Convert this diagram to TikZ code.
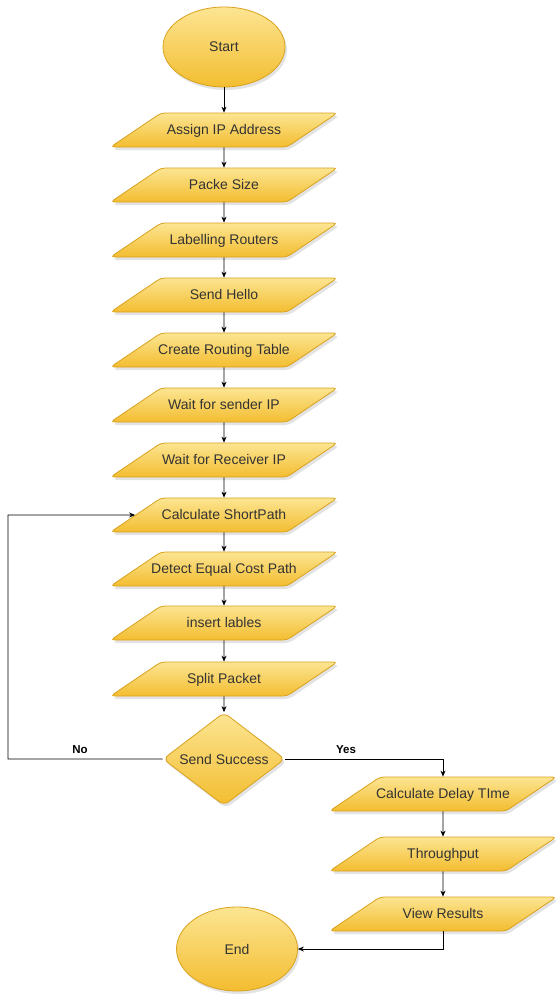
\documentclass[tikz,border=0pt]{standalone}
\usepackage{fontspec}
\setmainfont{Liberation Sans}
\usetikzlibrary{shapes.geometric,arrows.meta,shadows}
\definecolor{boxtop}{HTML}{FCE592}
\definecolor{boxbot}{HTML}{F3BD30}
\definecolor{boxline}{HTML}{D9A21E}
\definecolor{txt}{HTML}{333333}
\newcommand\pgtxt[1]{\makebox[126pt][c]{#1}}
\tikzset{
  base/.style={draw=boxline, line width=0.8pt, top color=boxtop, bottom color=boxbot,
    text=txt, font=\fontsize{14}{16}\selectfont,
    drop shadow={opacity=0.22, shadow xshift=2pt, shadow yshift=-3pt}},
  term/.style={base, ellipse, inner sep=0pt},
  iobox/.style={base, trapezium, trapezium left angle=34, trapezium right angle=146,
    text height=12pt, text depth=3pt,
    inner xsep=0pt, inner ysep=9.5pt, rounded corners=4pt},
  decide/.style={base, diamond, aspect=1.31, minimum width=122pt, minimum height=93pt,
    inner sep=0pt, rounded corners=6pt},
  arr/.style={line width=0.7pt, -{Stealth[length=6pt,width=5pt]}},
  lbl/.style={font=\bfseries\fontsize{11.5}{13}\selectfont, text=black}
}
\begin{document}
\begin{tikzpicture}[x=1pt,y=-1pt]
\useasboundingbox[fill=white] (0,0) rectangle (555,994);
\node[term, minimum width=122pt, minimum height=80pt] (st) at (224,47) {Start};
\node[iobox] (aip) at (224,130) {\pgtxt{Assign IP Address}};
\node[iobox] (ps) at (224,185) {\pgtxt{Packe Size}};
\node[iobox] (lr) at (224,240) {\pgtxt{Labelling Routers}};
\node[iobox] (sh) at (224,295) {\pgtxt{Send Hello}};
\node[iobox] (crt) at (224,350) {\pgtxt{Create Routing Table}};
\node[iobox] (ws) at (224,405) {\pgtxt{Wait for sender IP}};
\node[iobox] (wr) at (224,460) {\pgtxt{Wait for Receiver IP}};
\node[iobox] (csp) at (224,515) {\pgtxt{Calculate ShortPath}};
\node[iobox] (dec) at (224,569) {\pgtxt{Detect Equal Cost Path}};
\node[iobox] (il) at (224,623) {\pgtxt{insert lables}};
\node[iobox] (sp) at (224,679) {\pgtxt{Split Packet}};
\node[decide] (ss) at (224,759) {Send Success};
\node[iobox] (cdt) at (443,794) {\pgtxt{Calculate Delay TIme}};
\node[iobox] (tp) at (443,854) {\pgtxt{Throughput}};
\node[iobox] (vr) at (443,914) {\pgtxt{View Results}};
\node[term, minimum width=121pt, minimum height=84pt] (en) at (237,949) {End};
\coordinate (nl) at (8,515);
\draw[arr] (st) -- (aip);
\draw[arr] (aip) -- (ps);
\draw[arr] (ps) -- (lr);
\draw[arr] (lr) -- (sh);
\draw[arr] (sh) -- (crt);
\draw[arr] (crt) -- (ws);
\draw[arr] (ws) -- (wr);
\draw[arr] (wr) -- (csp);
\draw[arr] (csp) -- (dec);
\draw[arr] (dec) -- (il);
\draw[arr] (il) -- (sp);
\draw[arr] (sp) -- (ss);
\draw[arr] (ss.west) -| (nl) -- (csp.west);
\draw[arr] (ss.east) -| (cdt.north);
\draw[arr] (cdt) -- (tp);
\draw[arr] (tp) -- (vr);
\draw[arr] (vr.south) |- (en.east);
\node[lbl] (no) at (80,750) {No};
\node[lbl] (yes) at (346,750) {Yes};
\end{tikzpicture}
\end{document}
